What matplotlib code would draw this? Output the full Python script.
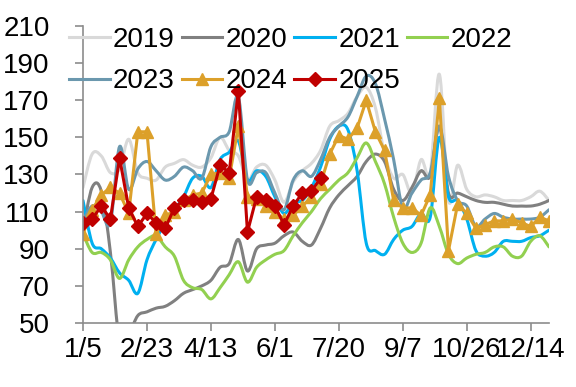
import matplotlib
matplotlib.use('Agg')
import matplotlib.pyplot as plt
from matplotlib.path import Path
from matplotlib.patches import PathPatch
from matplotlib.lines import Line2D
import numpy as np

# ---------------- data ----------------
tick_labels = ['1/5', '2/23', '4/13', '6/1', '7/20', '9/7', '10/26', '12/14']
tick_pos = [0, 7, 14, 21, 28, 35, 42, 49]
weeks = list(range(52))

y2019 = [123, 141, 140, 131, 133, 149, 131, 128, 127, 134, 136, 138, 135, 134, 139, 150,
         143, 140, 127, 134, 135, 127, 115, 126, 132, 136, 143, 156, 159, 163, 172, 177,
         166, 141, 128, 130, 120, 138, 131, 184, 116, 135, 122, 118, 119, 118, 116, 116,
         116, 118, 121, 116]
y2020 = [100, 123, 121, 88, 40, 44, 54, 56, 58, 59, 62, 66, 68, 70, 73, 80,
         82, 95, 78, 90, 92, 93, 97, 99, 94, 92, 101, 112, 119, 124, 129, 137,
         141, 137, 122, 116, 123, 132, 129, 156, 120, 120, 118, 116, 115, 115, 114, 113,
         113, 113, 114, 116]
y2021 = [116, 93, 90, 85, 77, 73, 66, 84, 95, 104, 111, 118, 128, 129, 123, 138,
         142, 148, 127, 132, 129, 118, 109, 115, 116, 123, 134, 149, 156, 154, 132, 93,
         89, 87, 95, 100, 102, 109, 107, 150, 118, 116, 106, 89, 86, 88, 94, 94,
         94, 96, 97, 100]
y2022 = [98, 88, 88, 84, 74, 84, 91, 95, 97, 91, 86, 73, 69, 68, 63, 69,
         76, 83, 72, 80, 84, 87, 89, 97, 104, 110, 117, 122, 127, 131, 139, 147,
         137, 125, 107, 93, 88, 93, 112, 102, 87, 82, 85, 87, 88, 91, 91, 86,
         86, 94, 97, 91]
y2023 = [105, 113, 110, 104, 145, 122, 133, 137, 132, 127, 129, 134, 132, 128, 145, 150,
         153, 172, 127, 131, 131, 120, 111, 127, 132, 129, 138, 150, 156, 161, 172, 183,
         179, 160, 138, 112, 120, 127, 131, 156, 129, 116, 113, 102, 106, 109, 107, 106,
         106, 106, 107, 111]
y2024 = [98, 111, 119, 123, 120, 109, 153, 153, 98, 108, 110, 116, 119, 120, 130, 131,
         128, 156, 118, 117, 113, 110, 106, 108, 113, 118, 125, 141, 151, 149, 155, 170,
         153, 143, 116, 112, 112, 108, 119, 171, 89, 114, 109, 101, 103, 105, 105, 106,
         104, 102, 107, 105]
y2025 = [104, 106, 113, 106, 139, 112, 102, 109, 104, 101, 112, 116, 116, 115, 117, 135,
         131, 175, 99, 118, 116, 113, 103, 113, 120, 121, 128]

# ---------------- style ----------------
plt.rcParams['font.family'] = ['Liberation Sans', 'DejaVu Sans']
FS = 20
AXIS_GRAY = '#8c8c8c'

fig = plt.figure(figsize=(5.76, 3.87), dpi=100)
ax = fig.add_axes([83 / 576, 1 - 323 / 387, (549 - 83) / 576, (323 - 26) / 387])


def smooth_path(x, y):
    pts = np.column_stack([x, y]).astype(float)
    n = len(pts)
    verts = [pts[0]]
    codes = [Path.MOVETO]
    for i in range(n - 1):
        p0 = pts[i - 1] if i > 0 else pts[i]
        p1 = pts[i]
        p2 = pts[i + 1]
        p3 = pts[i + 2] if i + 2 < n else pts[i + 1]
        c1 = p1 + (p2 - p0) / 6.0
        c2 = p2 - (p3 - p1) / 6.0
        verts += [c1, c2, p2]
        codes += [Path.CURVE4] * 3
    return Path(verts, codes)


smooth_series = [
    ('2019', y2019, '#d9d9d9'),
    ('2020', y2020, '#808080'),
    ('2021', y2021, '#00b0f0'),
    ('2022', y2022, '#92d050'),
    ('2023', y2023, '#6b98ae'),
]
LW = 2.2
handles = {}
for name, vals, col in smooth_series:
    p = PathPatch(smooth_path(weeks[:len(vals)], vals), fill=False,
                  edgecolor=col, lw=LW, capstyle='round', joinstyle='round')
    ax.add_patch(p)
    handles[name] = Line2D([], [], color=col, lw=LW)

c24 = '#dca02a'
l24, = ax.plot(weeks[:len(y2024)], y2024, color=c24, lw=LW, marker='^',
               markersize=8.5, markerfacecolor=c24, markeredgecolor=c24)
handles['2024'] = l24
c25 = '#c00000'
l25, = ax.plot(weeks[:len(y2025)], y2025, color=c25, lw=LW, marker='D',
               markersize=6.8, markerfacecolor=c25, markeredgecolor=c25)
handles['2025'] = l25

ax.set_xlim(0, 51)
ax.set_ylim(50, 210)
ax.set_xticks(tick_pos)
ax.set_xticklabels(tick_labels)
ax.set_yticks(list(range(50, 211, 20)))

for s in ['top', 'right']:
    ax.spines[s].set_visible(False)
for s in ['left', 'bottom']:
    ax.spines[s].set_color(AXIS_GRAY)
    ax.spines[s].set_linewidth(1.2)

ax.tick_params(axis='both', direction='out', length=6, width=1.2, color=AXIS_GRAY,
               labelsize=FS, labelcolor='black')
ax.tick_params(axis='y', pad=18)
ax.tick_params(axis='x', pad=4)

order = ['2019', '2023', '2020', '2024', '2021', '2025', '2022']
fig.legend([handles[k] for k in order], order, loc='upper left',
           bbox_to_anchor=(69 / 576, 1 - 27 / 387), ncol=4, frameon=False,
           fontsize=FS, handlelength=1.46, handletextpad=0.12, columnspacing=0.25,
           borderpad=0, borderaxespad=0, labelspacing=0.55, numpoints=1)

fig.savefig('out.png', dpi=100)
